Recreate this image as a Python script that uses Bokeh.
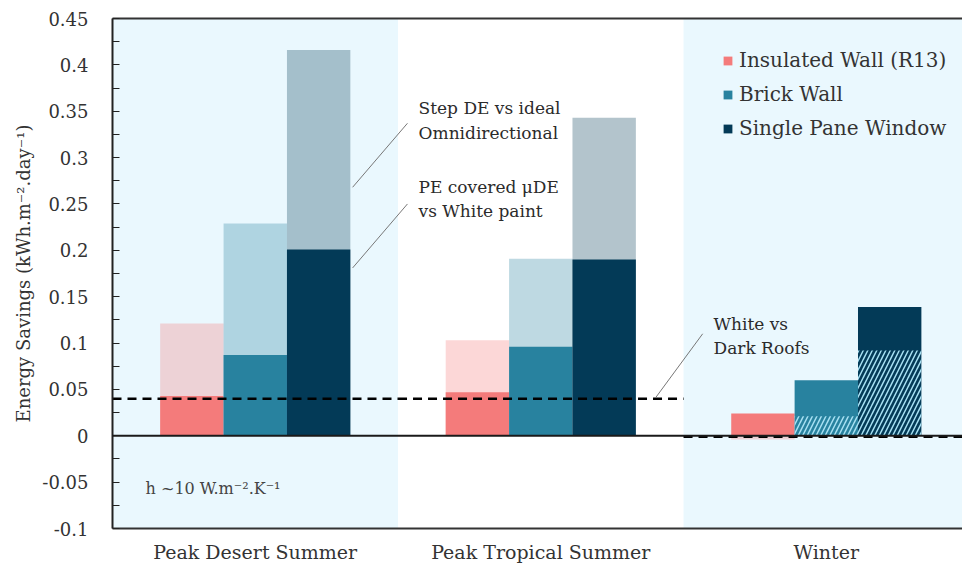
from bokeh.plotting import figure
from bokeh.models import (Range1d, LinearAxis, FixedTicker, CustomJSTickFormatter, BoxAnnotation,
                          Label, Legend, LegendItem, Span)
from bokeh.embed import file_html
from bokeh.resources import INLINE

# ---------------- data ----------------
categories = ["Peak Desert Summer", "Peak Tropical Summer", "Winter"]
series = ["Insulated Wall (R13)", "Brick Wall", "Single Pane Window"]
# PE covered uDE vs White paint (solid part)
insulated_dark = [0.043, 0.047, 0.024]
brick_dark = [0.087, 0.096, 0.060]
window_dark = [0.201, 0.190, 0.139]
# Step DE vs ideal Omnidirectional (light part)
insulated_light = [0.121, 0.103, -0.004]
brick_light = [0.229, 0.191, 0.0]
window_light = [0.416, 0.343, 0.0]
# Winter hatched portion
insulated_hatch = [0.0, 0.0, 0.0]
brick_hatch = [0.0, 0.0, 0.021]
window_hatch = [0.0, 0.0, 0.092]
# White vs Dark Roofs
roofs = [0.040, 0.040, -0.001]
y_ticks = [-0.1, -0.05, 0, 0.05, 0.1, 0.15, 0.2, 0.25, 0.3, 0.35, 0.4, 0.45]
y_minor = [-0.075, -0.025, 0.025, 0.075, 0.125, 0.175, 0.225, 0.275, 0.325, 0.375, 0.425]

colors = ["#f47b7b", "#28829f", "#033a57"]
band_color = "#eaf8fe"
FONT = "DejaVu Serif"
TXT = "#2b2b2b"

p = figure(width=962, height=566, output_backend="svg", toolbar_location=None,
           x_range=Range1d(0, 2.977), y_range=Range1d(-0.1, 0.45),
           min_border_left=112, min_border_right=0, min_border_top=18, min_border_bottom=38,
           x_axis_type=None, y_axis_type=None)
p.outline_line_color = None
p.grid.visible = False
p.background_fill_color = "white"

# background bands
p.add_layout(BoxAnnotation(left=0, right=1, fill_color=band_color, fill_alpha=1, line_color=None, level="underlay"))
p.add_layout(BoxAnnotation(left=2, right=3.5, fill_color=band_color, fill_alpha=1, line_color=None, level="underlay"))

offsets = [-0.222, 0.0, 0.222]
bw = 0.222
darks = [insulated_dark, brick_dark, window_dark]
lights = [insulated_light, brick_light, window_light]
hatches = [insulated_hatch, brick_hatch, window_hatch]
legend_items = []
for k in range(3):
    xs = [i + 0.5 + offsets[k] for i in range(3)]
    p.vbar(x=xs, top=lights[k], bottom=0, width=bw, fill_color=colors[k], fill_alpha=0.3, line_color=None)
    r = p.vbar(x=xs, top=darks[k], bottom=0, width=bw, fill_color=colors[k], line_color=None)
    legend_items.append(LegendItem(label=series[k], renderers=[r]))
    p.vbar(x=xs, top=hatches[k], bottom=0, width=bw, fill_alpha=0, line_color=None,
           hatch_pattern="/", hatch_color="#a6e0f2", hatch_scale=9, hatch_weight=1.5)

# zero line
p.add_layout(Span(location=0, dimension="width", line_color="#1a1a1a", line_width=2))

# roofs dashed line
p.segment(x0=[0, 1, 2], x1=[1, 2, 3.5], y0=roofs, y1=roofs, line_color="black",
          line_width=2.5, line_dash="9 6")

# leader lines (annotation positions)
p.segment(x0=[0.841, 0.841, 1.902], y0=[0.268, 0.181, 0.041],
          x1=[1.033, 1.033, 2.067], y1=[0.337, 0.250, 0.110],
          line_color="#777777", line_width=1)

def lab(x, y, t, size="17px", color=TXT):
    p.add_layout(Label(x=x, y=y, text=t, text_font=FONT, text_font_size=size,
                       text_color=color, text_baseline="middle", text_align="left"))

lab(1.072, 0.354, "Step DE vs ideal")
lab(1.072, 0.327, "Omnidirectional")
lab(1.072, 0.268, "PE covered \u03bcDE")
lab(1.072, 0.242, "vs White paint")
lab(2.105, 0.121, "White vs")
lab(2.105, 0.095, "Dark Roofs")
lab(0.116, -0.057, "h ~10 W.m\u207b\u00b2.K\u207b\u00b9", size="16px", color="#444444")

# axes
yax = LinearAxis(ticker=FixedTicker(ticks=y_ticks, minor_ticks=y_minor),
                 formatter=CustomJSTickFormatter(code="return String(parseFloat(tick.toFixed(3)));"))
yax.axis_line_color = "#222222"
yax.axis_line_width = 2
yax.major_tick_in = 7
yax.major_tick_out = 0
yax.minor_tick_in = 7
yax.minor_tick_out = 0
yax.major_tick_line_color = "#222222"
yax.minor_tick_line_color = "#222222"
yax.major_label_standoff = 24
yax.major_label_text_font = FONT
yax.major_label_text_font_size = "18px"
yax.major_label_text_color = "#333333"
yax.axis_label = "Energy Savings (kWh.m\u207b\u00b2.day\u207b\u00b9)"
yax.axis_label_text_font = FONT
yax.axis_label_text_font_size = "18px"
yax.axis_label_text_font_style = "normal"
yax.axis_label_text_color = "#333333"
yax.axis_label_standoff = 5
p.add_layout(yax, "left")

xax = LinearAxis(ticker=FixedTicker(ticks=[0.5, 1.5, 2.5]),
                 major_label_overrides={0.5: categories[0], 1.5: categories[1], 2.5: categories[2]})
xax.axis_line_color = "#333333"
xax.axis_line_width = 2
xax.major_tick_line_color = None
xax.minor_tick_line_color = None
xax.major_tick_in = 0
xax.major_tick_out = 0
xax.major_label_standoff = 12
xax.major_label_text_font = FONT
xax.major_label_text_font_size = "19px"
xax.major_label_text_color = "#333333"
p.add_layout(xax, "below")

top = LinearAxis(ticker=FixedTicker(ticks=[]), major_label_text_font_size="0px")
top.axis_line_color = "#333333"
top.axis_line_width = 2
top.major_tick_line_color = None
top.minor_tick_line_color = None
p.add_layout(top, "above")

legend = Legend(items=legend_items, location=(610, 388), label_text_font=FONT,
                label_text_font_size="20px", label_text_color="#333333",
                glyph_width=11, glyph_height=11, label_height=22, spacing=10,
                label_standoff=6, padding=0, margin=0,
                border_line_alpha=0, background_fill_alpha=0)
p.add_layout(legend, "center")

open("out.html", "w").write(file_html(p, INLINE))
